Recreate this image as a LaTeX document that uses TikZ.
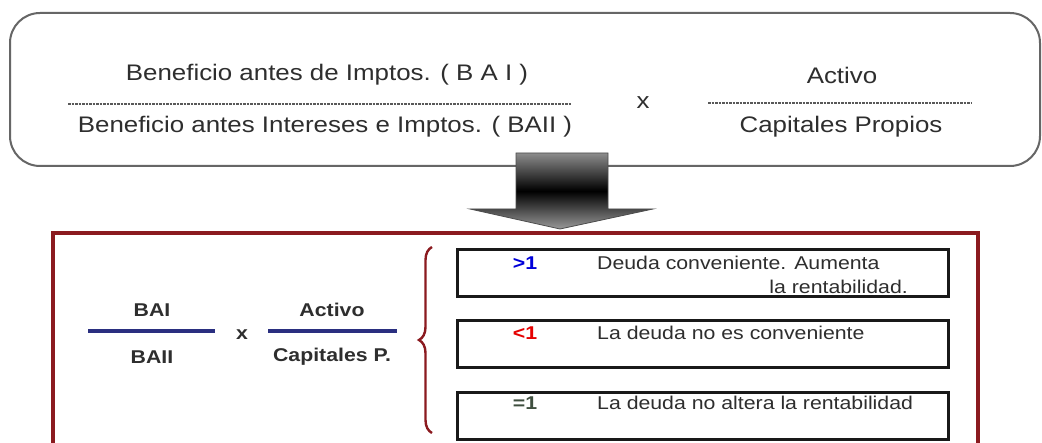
\documentclass[tikz,border=0pt]{standalone}
\usepackage{fontspec}
\setmainfont{Liberation Sans}[FakeStretch=1.15]
\usetikzlibrary{positioning,decorations.pathreplacing}
\definecolor{txt}{HTML}{2E2E2E}
\definecolor{frame}{HTML}{8B1A1F}
\definecolor{navy}{HTML}{2A2F80}
\definecolor{eqc}{HTML}{3F4F3F}
\tikzset{t/.style={text=txt,font=\fontsize{22.5}{26}\selectfont,inner sep=0pt},
 bt/.style={text=txt,font=\fontsize{18.5}{22}\selectfont\bfseries,inner sep=0pt},
 st/.style={text=txt,font=\fontsize{18.5}{22}\selectfont,inner sep=0pt},
 ib/.style={draw=black!90,line width=3pt,minimum width=491pt,minimum height=47pt,inner sep=0pt},
 dl/.style={draw=gray!70!black,line width=1.8pt,dash pattern=on 2.5pt off 1pt},
 fl/.style={draw=navy,line width=3.5pt}}
\begin{document}
\begin{tikzpicture}[x=1pt,y=-1pt]
\useasboundingbox[fill=white](0,0) rectangle (1042,443);
% top box with the product of the two ratios
\draw[gray!80!black,line width=2pt,rounded corners=30pt](10,13) rectangle (1040,166);
\node[t](bai) at (327,75){Beneficio antes de Imptos. ( B A I )};\node[t](baii) at (325,127){Beneficio antes Intereses e Imptos. ( BAII )};
\node[t](x1) at (643,103){x};\node[t](act) at (842,75){Activo};\node[t](cp) at (841,127){Capitales Propios};
\draw[dl](68,104)--(572,104);\draw[dl](708,103)--(972,103);
% bottom frame
\draw[frame,line width=3.2pt](53,233) rectangle (978,460);
% big arrow
\coordinate (top) at (562,153);\coordinate (tip) at (560,229);
\shade[top color=gray!90,bottom color=gray!80,middle color=black,draw=gray!60!black,line width=0.8pt]
 (516,153)--(608,153)--(608,209)--(653,209)--(tip)--(470,209)--(516,209)--cycle;
% short fractions
\node[bt](sbai) at (152,310){BAI};\node[bt](sbaii) at (152,357){BAII};\draw[fl](88,331)--(215,331);
\node[bt](x2) at (242,335){x};
\node[bt](sact) at (332,310){Activo};\node[bt](scp) at (332,357){Capitales P.};\draw[fl](268,331)--(397,331);
\draw[frame,line width=2.4pt,decorate,decoration={brace,amplitude=13pt}](432,433)--(432,247);
% cases
\node[ib](b1) at (702.5,273.5){};\node[ib](b2) at (702.5,344.5){};\node[ib](b3) at (702.5,416){};
\node[bt,text=blue!85!black](v1) at (525,263){>1};\node[st,anchor=west](d1) at (597,263){Deuda conveniente. Aumenta};
\node[st,anchor=east](d1b) at (908,287){la rentabilidad.};
\node[bt,text=red!90!black](v2) at (525,333){<1};\node[st,anchor=west](d2) at (597,333){La deuda no es conveniente};
\node[bt,text=eqc](v3) at (525,403){=1};\node[st,anchor=west](d3) at (597,403){La deuda no altera la rentabilidad};
\end{tikzpicture}
\end{document}
